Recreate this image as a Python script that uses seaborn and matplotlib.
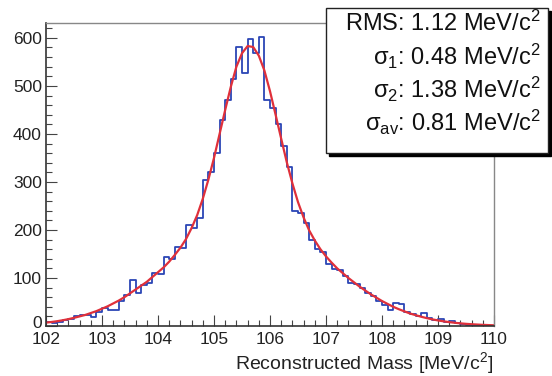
import numpy as np
import pandas as pd
import matplotlib
matplotlib.use("Agg")
import matplotlib.pyplot as plt
from matplotlib.patches import Rectangle
from matplotlib.ticker import MultipleLocator
from matplotlib.transforms import ScaledTranslation
import seaborn as sns

# ---- data ----
bin_lo = 102.0
bin_width = 0.1
counts = [8, 6, 9, 12, 14, 20, 23, 22, 18, 30,
          37, 33, 34, 52, 65, 96, 69, 85, 90, 110,
          108, 144, 140, 165, 162, 210, 204, 225, 304, 321,
          360, 430, 470, 515, 581, 527, 598, 569, 602, 471,
          455, 420, 375, 331, 240, 236, 215, 180, 160, 155,
          130, 118, 116, 105, 90, 88, 80, 68, 62, 52,
          44, 34, 48, 46, 30, 24, 20, 27, 16, 12,
          14, 8, 10, 6, 4, 3, 3, 2, 2, 1]
fit_x = [round(102.0 + 0.1 * k, 1) for k in range(81)]
fit_y = [7, 8.4, 10, 12, 14.3, 17, 20, 23, 27, 31,
         36, 41, 47, 53, 60, 68, 76, 84, 92, 102,
         112, 122, 134, 148, 163, 181, 204, 231, 265, 305,
         350, 400, 450, 498, 540, 568, 583, 581, 563, 532,
         489, 440, 390, 341, 297, 258, 226, 199, 178, 160,
         145, 132, 120, 110, 100, 91, 82, 74, 66, 59,
         52, 46, 40, 35, 30.5, 26, 22.6, 19.3, 16.4, 13.8,
         11.6, 9.7, 8.1, 6.7, 5.5, 4.5, 3.7, 3.0, 2.4, 1.9, 1.5]
x_ticks = [102, 103, 104, 105, 106, 107, 108, 109, 110]
y_ticks = [0, 100, 200, 300, 400, 500, 600]
stat_lines = ["RMS: 1.12 MeV/c$^{2}$",
              "σ$_{1}$: 0.48 MeV/c$^{2}$",
              "σ$_{2}$: 1.38 MeV/c$^{2}$",
              "σ$_{av}$: 0.81 MeV/c$^{2}$"]
x_label = "Reconstructed Mass [MeV/c$^{2}$]"

# ---- style ----
sns.set_style("white")
plt.rcParams["font.family"] = ["Liberation Sans", "DejaVu Sans"]
plt.rcParams["mathtext.fontset"] = "custom"
plt.rcParams["mathtext.rm"] = "Liberation Sans"
plt.rcParams["mathtext.it"] = "Liberation Sans:italic"
plt.rcParams["mathtext.default"] = "regular"

W, H = 552, 376
fig = plt.figure(figsize=(W / 100, H / 100), dpi=100)
ax = fig.add_axes([46 / W, 1 - 326 / H, 448 / W, 303 / H])

edges = [bin_lo + bin_width * i for i in range(len(counts) + 1)]
centers = [bin_lo + bin_width * (i + 0.5) for i in range(len(counts))]
df = pd.DataFrame({"mass": centers, "n": counts})
sns.histplot(data=df, x="mass", weights="n", bins=edges, element="step",
             fill=False, color="#2b45b5", linewidth=1.3, ax=ax)
fit_df = pd.DataFrame({"x": fit_x, "y": fit_y})
sns.lineplot(data=fit_df, x="x", y="y", color="#e0303a", linewidth=1.6, ax=ax)

ax.set_xlim(102, 110)
ax.set_ylim(0, 631)
ax.set_xticks(x_ticks)
ax.set_yticks(y_ticks)
ax.xaxis.set_minor_locator(MultipleLocator(0.2))
ax.yaxis.set_minor_locator(MultipleLocator(20))
ax.tick_params(axis="both", which="major", direction="in", length=8, width=0.8,
               color="#444444", labelsize=12.5, labelcolor="#222222")
ax.tick_params(axis="x", which="major", pad=4)
ax.tick_params(axis="y", which="major", pad=3)
ax.tick_params(axis="both", which="minor", direction="in", length=4, width=0.8,
               color="#444444")
ax.tick_params(left=True, bottom=True, right=False, top=False)
ax.tick_params(which="minor", left=True, bottom=True, right=False, top=False)
ax.set_xlabel("")
ax.set_ylabel("")
for s in ["left", "bottom"]:
    ax.spines[s].set_color("#333333")
    ax.spines[s].set_linewidth(1.2)
for s in ["top", "right"]:
    ax.spines[s].set_color("#888888")
    ax.spines[s].set_linewidth(1.0)

# nudge the "0" label up a little so it does not collide with "102"
fig.canvas.draw()
ylabs = ax.get_yticklabels()
ylabs[0].set_transform(ylabs[0].get_transform() +
                       ScaledTranslation(0, 4 / 100, fig.dpi_scale_trans))

fig.text(493 / W, 1 - 363 / H, x_label, ha="right", va="center",
         fontsize=14, color="#222222")

# ---- stats box ----
bx0, bx1, by0, by1 = 326, 548, 8, 153
sh = 3
fig.patches.append(Rectangle(((bx0 + sh) / W, 1 - (by1 + sh) / H),
                             (bx1 - bx0) / W, (by1 - by0) / H,
                             transform=fig.transFigure, facecolor="black",
                             edgecolor="black", zorder=5))
fig.patches.append(Rectangle((bx0 / W, 1 - by1 / H),
                             (bx1 - bx0) / W, (by1 - by0) / H,
                             transform=fig.transFigure, facecolor="white",
                             edgecolor="#222222", linewidth=1.0, zorder=6))
for line, yc in zip(stat_lines, [23, 56, 89, 122]):
    fig.text(541 / W, 1 - yc / H, line, ha="right", va="center",
             fontsize=17, color="#111111", zorder=7)

fig.savefig("out.png", dpi=100)
